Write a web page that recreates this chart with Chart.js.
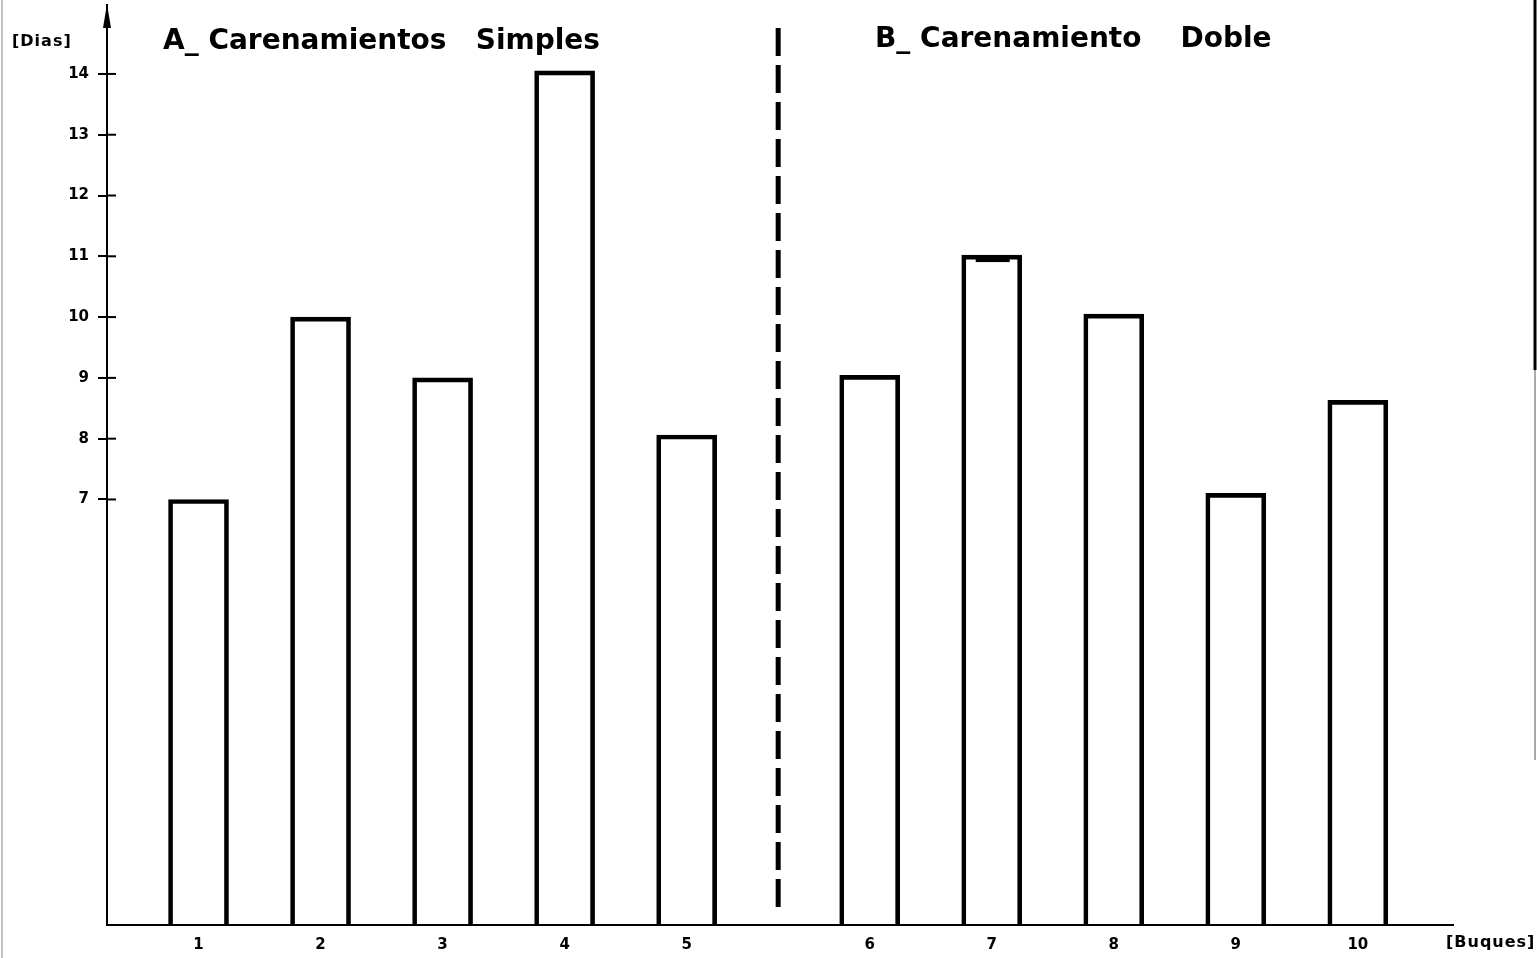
<!DOCTYPE html>
<html>
<head>
<meta charset="utf-8">
<script src="https://cdn.jsdelivr.net/npm/chart.js@4"></script>
<style>
  html, body { margin: 0; padding: 0; background: #fff; }
  #chart { display: block; }
</style>
</head>
<body>
<canvas id="chart"></canvas>
<script>
// buques and dias
const buques = ['1', '2', '3', '4', '5', '6', '7', '8', '9', '10']
const dias = [7, 10, 9, 14.05, 8.06, 9.04, 11.02, 10.05, 7.1, 8.63]
const yTicks = [7, 8, 9, 10, 11, 12, 13, 14]
const groupTitles = ['A_ Carenamientos   Simples', 'B_ Carenamiento    Doble']
const yTitle = '[Dias]'
const xTitle = '[Buques]'

// group B is shifted half a slot to the right of group A
const xPos = buques.map((b, i) => i + 1 + (i >= 5 ? 0.5 : 0))
const divider = 5.75

const W = 1537, H = 958
const ctx = document.getElementById('chart')
ctx.width = W
ctx.height = H

const font = 'DejaVu Sans'

const decor = {
    id: 'decor',
    afterDraw(chart) {
        const c = chart.ctx
        const x = chart.scales.x
        const y = chart.scales.y
        const area = chart.chartArea
        c.save()
        c.strokeStyle = '#000'
        c.fillStyle = '#000'

        // y ticks cross the axis: right halves
        c.lineWidth = 2
        yTicks.forEach(v => {
            const py = y.getPixelForValue(v)
            c.beginPath()
            c.moveTo(area.left, py)
            c.lineTo(area.left + 9, py)
            c.stroke()
        })

        // arrow at top of y axis
        c.beginPath()
        c.moveTo(area.left, 4)
        c.lineTo(area.left, area.top)
        c.stroke()
        c.beginPath()
        c.moveTo(area.left, 4)
        c.lineTo(area.left - 4, 28)
        c.lineTo(area.left + 4, 28)
        c.closePath()
        c.fill()

        // dashed divider between groups
        const dx = x.getPixelForValue(divider)
        c.lineWidth = 5
        c.setLineDash([28, 9])
        c.beginPath()
        c.moveTo(dx, 28)
        c.lineTo(dx, 916)
        c.stroke()
        c.setLineDash([])

        // small mark on top of bar 7
        const b7 = chart.getDatasetMeta(0).data[6]
        c.fillRect(b7.x - 16, b7.y + 2, 34, 5)

        // titles
        c.font = 'bold 28px "' + font + '"'
        c.textBaseline = 'middle'
        c.textAlign = 'left'
        c.fillText(groupTitles[0], 163, 42)
        c.fillText(groupTitles[1], 875, 40)

        c.font = 'bold 16px "' + font + '"'
        c.letterSpacing = '1px'
        c.fillText(yTitle, 12, 42)
        c.fillText(xTitle, 1446, 943)
        c.letterSpacing = '0px'

        // scan edges
        c.lineWidth = 3
        c.beginPath()
        c.moveTo(W - 2, 0)
        c.lineTo(W - 2, 370)
        c.stroke()
        c.lineWidth = 1
        c.strokeStyle = '#555'
        c.beginPath()
        c.moveTo(W - 2, 370)
        c.lineTo(W - 2, 760)
        c.stroke()
        c.strokeStyle = '#888'
        c.beginPath()
        c.moveTo(2, 0)
        c.lineTo(2, H)
        c.stroke()
        c.restore()
    }
}

const chart = new Chart(ctx, {
    type: 'bar',
    data: {
        datasets: [{
            label: 'Dias',
            data: xPos.map((p, i) => ({ x: p, y: dias[i] })),
            backgroundColor: 'rgba(255,255,255,0)',
            borderColor: '#000',
            borderWidth: 4,
            barThickness: 60,
        }]
    },
    options: {
        responsive: false,
        maintainAspectRatio: false,
        animation: false,
        layout: { padding: { top: 14, right: 84, left: 0, bottom: 0 } },
        plugins: {
            legend: { display: false },
            tooltip: { enabled: false }
        },
        scales: {
            x: {
                type: 'linear',
                min: 0.25,
                max: 11.28,
                offset: false,
                afterFit(s) { s.height = 33 },
                afterBuildTicks(s) {
                    s.ticks = xPos.map(v => ({ value: v }))
                },
                grid: { display: false, drawTicks: false },
                border: { display: true, color: '#000', width: 2 },
                ticks: {
                    autoSkip: false,
                    maxRotation: 0,
                    padding: 11,
                    color: '#000',
                    font: { family: font, size: 15, weight: 'bold' },
                    callback: (v, i) => buques[i]
                }
            },
            y: {
                min: 0,
                max: 14.92,
                afterFit(s) { s.width = 107 },
                afterBuildTicks(s) {
                    s.ticks = yTicks.map(v => ({ value: v }))
                },
                grid: {
                    display: true,
                    drawOnChartArea: false,
                    drawTicks: true,
                    tickLength: 9,
                    color: '#000',
                    lineWidth: 2
                },
                border: { display: true, color: '#000', width: 2 },
                ticks: {
                    padding: 9,
                    color: '#000',
                    font: { family: font, size: 15, weight: 'bold' },
                    callback: v => String(v)
                }
            }
        }
    },
    plugins: [decor]
})
</script>
</body>
</html>
